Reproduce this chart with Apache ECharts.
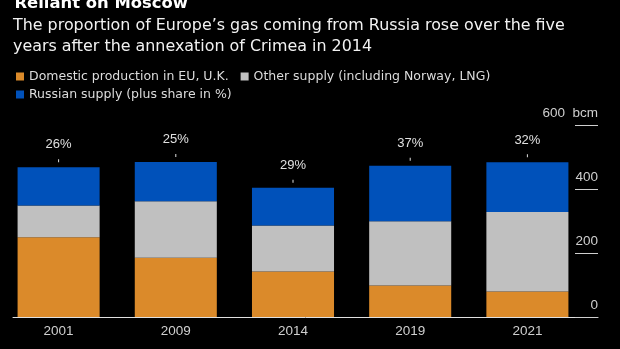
<!DOCTYPE html>
<html>
<head>
<meta charset="utf-8">
<script src="https://cdn.jsdelivr.net/npm/echarts@6/dist/echarts.min.js"></script>
<style>
  html, body { margin: 0; padding: 0; background: #000; }
  #chart { width: 620px; height: 349px; }
</style>
</head>
<body>
<div id="chart"></div>
<script>
// Gas supply to Europe, billion cubic metres
const years = ['2001', '2009', '2014', '2019', '2021'];
const domestic = [250, 186, 143, 99, 80];
const otherSupply = [100, 177, 144, 201, 249];
const russian = [120, 123, 118, 174, 156];
const axisMax = 600;
const axisStep = 200;

const seriesNames = [
  'Domestic production in EU, U.K.',
  'Other supply (including Norway, LNG)',
  'Russian supply (plus share in %)'
];
const colors = ['#db8a2a', '#c0c0c0', '#0051ba'];

const textFont = 'DejaVu Sans';
const numFont = 'Liberation Sans';

function russianShare(i) {
  const total = domestic[i] + otherSupply[i] + russian[i];
  return Math.round(russian[i] / total * 100);
}

const chart = echarts.init(document.getElementById('chart'), null, { renderer: 'canvas' });

chart.setOption({
  backgroundColor: '#000',
  animation: false,
  title: [
    {
      text: 'Reliant on Moscow',
      left: 14.5,
      top: -4,
      padding: 0,
      textStyle: { color: '#fff', fontFamily: textFont, fontWeight: 'bold', fontSize: 16.4 }
    },
    {
      text: 'The proportion of Europe\u2019s gas coming from Russia rose over the five\nyears after the annexation of Crimea in 2014',
      left: 13,
      top: 16,
      padding: 0,
      textStyle: { color: '#f2f2f2', fontFamily: textFont, fontWeight: 'normal', fontSize: 15.9, lineHeight: 20.5 }
    }
  ],
  legend: [
    {
      data: [seriesNames[0], seriesNames[1]],
      left: 16, top: 70, padding: 0,
      icon: 'rect', itemWidth: 8, itemHeight: 8, itemGap: 12,
      textStyle: { color: '#dcdcdc', fontFamily: textFont, fontSize: 12.5 }
    },
    {
      data: [seriesNames[2]],
      left: 16, top: 88, padding: 0,
      icon: 'rect', itemWidth: 8, itemHeight: 8, itemGap: 12,
      textStyle: { color: '#dcdcdc', fontFamily: textFont, fontSize: 12.5 }
    }
  ],
  grid: [
    { left: -4.35, right: 34, top: 125.7, bottom: 32 },
    { left: 13, right: 22, top: 125.7, bottom: 32 }
  ],
  xAxis: [
    {
      type: 'category', gridIndex: 0, data: years,
      axisLine: { show: false }, axisTick: { show: false },
      axisLabel: { color: '#cfcfcf', fontFamily: numFont, fontSize: 13.5, margin: 7.5 }
    },
    {
      type: 'value', gridIndex: 1, min: 0, max: 1,
      axisLine: { show: true, onZero: false, lineStyle: { color: '#e0e0e0', width: 1 } },
      axisTick: { show: false }, axisLabel: { show: false }, splitLine: { show: false }
    }
  ],
  yAxis: [
    { type: 'value', gridIndex: 0, min: 0, max: axisMax, interval: axisStep, show: false },
    {
      type: 'value', gridIndex: 1, position: 'right', min: 0, max: axisMax, interval: axisStep,
      axisLine: { show: false, onZero: false },
      splitLine: { show: false },
      axisTick: { show: true, inside: true, length: 23, lineStyle: { color: '#cfcfcf', width: 1 } },
      axisLabel: {
        inside: true, margin: 0, verticalAlign: 'bottom', padding: [0, 0, 5, 0],
        color: '#cfcfcf', fontFamily: numFont, fontSize: 13.5,
        formatter: v => (v === axisMax ? v + '  bcm' : String(v))
      }
    }
  ],
  series: [
    {
      name: seriesNames[0], type: 'bar', stack: 'gas', data: domestic,
      xAxisIndex: 0, yAxisIndex: 0, barCategoryGap: '30%',
      itemStyle: { color: colors[0] }
    },
    {
      name: seriesNames[1], type: 'bar', stack: 'gas', data: otherSupply,
      xAxisIndex: 0, yAxisIndex: 0, barCategoryGap: '30%',
      itemStyle: { color: colors[1] }
    },
    {
      name: seriesNames[2], type: 'bar', stack: 'gas', data: russian,
      xAxisIndex: 0, yAxisIndex: 0, barCategoryGap: '30%',
      itemStyle: { color: colors[2] },
      label: {
        show: true, position: 'top', distance: 5,
        formatter: p => '{p|' + russianShare(p.dataIndex) + '%}\n{t|}',
        rich: {
          p: { color: '#e0e0e0', fontFamily: numFont, fontSize: 13, lineHeight: 14, padding: [0, 0, 14.5, 0] },
          t: { width: 1, height: 3, backgroundColor: '#e0e0e0' }
        }
      }
    }
  ]
});
</script>
</body>
</html>
